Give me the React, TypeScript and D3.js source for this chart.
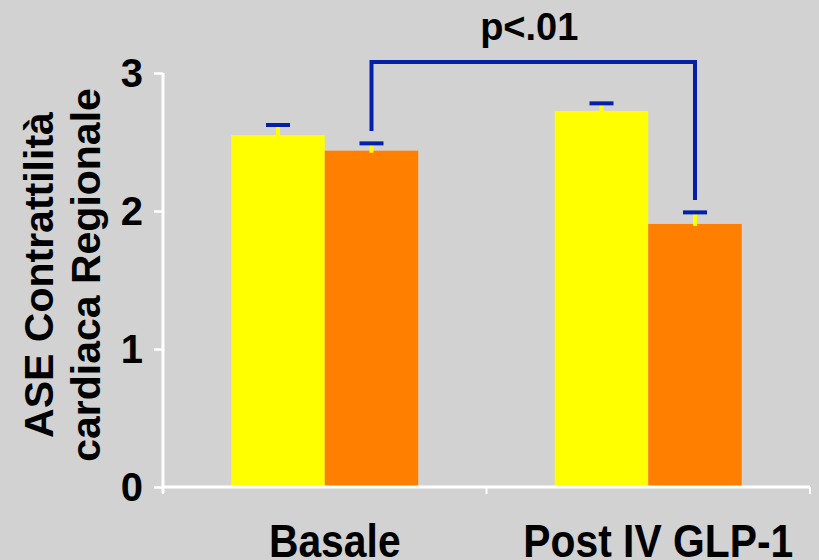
import { useEffect, useRef } from "react";
import * as d3 from "d3";

const W = 819;
const H = 560;

const categories = ["Basale", "Post IV GLP-1"];
const seriesNames = ["yellow", "orange"];
const seriesColors = ["#ffff00", "#ff8000"];
// bar heights per series, one value per category
const yellowValues = [2.55, 2.725];
const orangeValues = [2.437, 1.906];
// top of the error bar (mean + error)
const yellowErrTop = [2.623, 2.78];
const orangeErrTop = [2.49, 1.99];
const yTicks = [0, 1, 2, 3];
const yTitleLines = ["ASE Contrattilità", "cardiaca Regionale"];
// significance bracket: top level and the ends of the two legs
const bracketTop = 3.08;
const bracketLegEnds = [2.58, 2.08];
const bracketLabel = "p<.01";

const FONT = "'Liberation Sans', Arial, Helvetica, sans-serif";
const BLUE = "#0520a8";

export default function App() {
  const svgRef = useRef<SVGSVGElement>(null);

  useEffect(() => {
    document.body.style.margin = "0";
    if (!svgRef.current) return;
    const svg = d3.select(svgRef.current);
    svg.selectAll("*").remove();

    const margin = { left: 163, right: 9, top: 73, bottom: 73 };
    const plotW = W - margin.left - margin.right;
    const plotH = H - margin.top - margin.bottom;

    svg.append("rect").attr("width", W).attr("height", H).attr("fill", "#d2d2d2");

    const x0 = d3.scaleBand<string>().domain(categories).range([0, plotW]).padding(0);
    const x1 = d3
      .scaleBand<string>()
      .domain(seriesNames)
      .range([0, x0.bandwidth()])
      .paddingInner(0)
      .paddingOuter(0.73);
    const y = d3.scaleLinear().domain([0, 3]).range([plotH, 0]);

    const g = svg
      .append("g")
      .attr("transform", `translate(${margin.left},${margin.top})`);

    const values = [yellowValues, orangeValues];
    const errTops = [yellowErrTop, orangeErrTop];

    // Bars
    seriesNames.forEach((s, si) => {
      g.append("g")
        .selectAll("rect")
        .data(categories)
        .join("rect")
        .attr("x", (c) => (x0(c) ?? 0) + (x1(s) ?? 0))
        .attr("width", x1.bandwidth())
        .attr("y", (_, i) => y(values[si][i]))
        .attr("height", (_, i) => plotH - y(values[si][i]))
        .attr("fill", seriesColors[si]);
    });

    const barCenter = (c: string, s: string) =>
      (x0(c) ?? 0) + (x1(s) ?? 0) + x1.bandwidth() / 2;

    // Error bars: yellow stem, blue cap
    seriesNames.forEach((s, si) => {
      categories.forEach((c, i) => {
        const cx = barCenter(c, s);
        g.append("line")
          .attr("x1", cx)
          .attr("x2", cx)
          .attr("y1", y(values[si][i]) + 2)
          .attr("y2", y(errTops[si][i]))
          .attr("stroke", "#ffff00")
          .attr("stroke-width", 4);
        g.append("line")
          .attr("x1", cx - 12)
          .attr("x2", cx + 12)
          .attr("y1", y(errTops[si][i]))
          .attr("y2", y(errTops[si][i]))
          .attr("stroke", BLUE)
          .attr("stroke-width", 4);
      });
    });

    // Axes (white)
    const yAxis = g
      .append("g")
      .call(d3.axisLeft(y).tickValues(yTicks).tickSize(9).tickFormat(() => ""));
    yAxis.select(".domain").remove();
    yAxis.selectAll(".tick line").attr("stroke", "#fff").attr("stroke-width", 2.5);
    g.append("line")
      .attr("x1", 0)
      .attr("x2", 0)
      .attr("y1", 0)
      .attr("y2", plotH + 6)
      .attr("stroke", "#fff")
      .attr("stroke-width", 3);

    g.append("line")
      .attr("x1", 0)
      .attr("x2", plotW)
      .attr("y1", plotH)
      .attr("y2", plotH)
      .attr("stroke", "#fff")
      .attr("stroke-width", 3);
    const xTickPos = [0, ...categories.map((c) => (x0(c) ?? 0) + x0.bandwidth())];
    g.append("g")
      .selectAll("line")
      .data(xTickPos)
      .join("line")
      .attr("x1", (d) => d)
      .attr("x2", (d) => d)
      .attr("y1", plotH)
      .attr("y2", plotH + 7)
      .attr("stroke", "#fff")
      .attr("stroke-width", 2);

    // Y tick labels
    g.append("g")
      .selectAll("text")
      .data(yTicks)
      .join("text")
      .attr("x", -20)
      .attr("y", (d) => y(d))
      .attr("dy", "0.36em")
      .attr("text-anchor", "end")
      .attr("font-family", FONT)
      .attr("font-weight", "bold")
      .attr("font-size", 40)
      .attr("fill", "#000")
      .text((d) => d);

    // X labels (slightly condensed, tall bold type)
    g.append("g")
      .selectAll("text")
      .data(categories)
      .join("text")
      .attr(
        "transform",
        (c) =>
          `translate(${(x0(c) ?? 0) + x0.bandwidth() / 2 + 10},${plotH + 70}) scale(0.95,1.08)`
      )
      .attr("text-anchor", "middle")
      .attr("font-family", FONT)
      .attr("font-weight", "bold")
      .attr("font-size", 43)
      .attr("fill", "#000")
      .text((c) => c);

    // Y title (two lines, rotated)
    const yTitleBaselines = [53, 100];
    yTitleLines.forEach((t, i) => {
      svg
        .append("text")
        .attr("transform", `translate(${yTitleBaselines[i]},275) rotate(-90)`)
        .attr("text-anchor", "middle")
        .attr("font-family", FONT)
        .attr("font-weight", "bold")
        .attr("font-size", 41)
        .attr("fill", "#000")
        .text(t);
    });

    // Significance bracket between the orange bars
    const bx = categories.map((c) => barCenter(c, "orange"));
    const path = d3.path();
    path.moveTo(bx[0], y(bracketLegEnds[0]));
    path.lineTo(bx[0], y(bracketTop));
    path.lineTo(bx[1], y(bracketTop));
    path.lineTo(bx[1], y(bracketLegEnds[1]));
    g.append("path")
      .attr("d", path.toString())
      .attr("fill", "none")
      .attr("stroke", BLUE)
      .attr("stroke-width", 4);

    g.append("text")
      .attr("x", (bx[0] + bx[1]) / 2 - 4)
      .attr("y", y(bracketTop) - 22)
      .attr("text-anchor", "middle")
      .attr("font-family", FONT)
      .attr("font-weight", "bold")
      .attr("font-size", 38)
      .attr("fill", "#000")
      .text(bracketLabel);
  }, []);

  return (
    <svg
      ref={svgRef}
      width={W}
      height={H}
      style={{ display: "block", position: "fixed", left: 0, top: 0 }}
    />
  );
}
